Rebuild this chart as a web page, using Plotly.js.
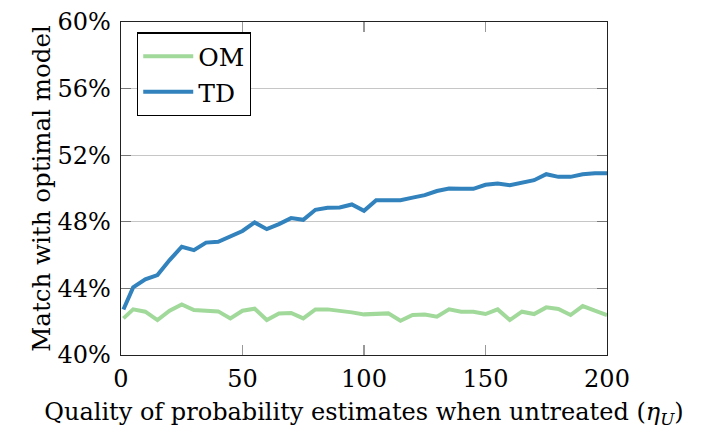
<!DOCTYPE html>
<html>
<head>
<meta charset="utf-8">
<script src="https://cdn.plot.ly/plotly-3.0.1.min.js"></script>
<style>html,body{margin:0;padding:0;background:#fff;}#chart{width:702px;height:429px;}</style>
</head>
<body>
<div id="chart"></div>
<script>
const xValues = [1,5,10,15,20,25,30,35,40,45,50,55,60,65,70,75,80,85,90,95,100,105,110,115,120,125,130,135,140,145,150,155,160,165,170,175,180,185,190,195,200];
const omValues = [42.2,42.74,42.6,42.1,42.66,43.04,42.7,42.68,42.62,42.2,42.66,42.78,42.1,42.5,42.52,42.2,42.74,42.74,42.68,42.56,42.44,42.5,42.5,42.06,42.4,42.43,42.3,42.74,42.6,42.6,42.46,42.74,42.1,42.6,42.46,42.86,42.76,42.4,42.94,42.66,42.4];
const tdValues = [42.73,44.06,44.54,44.8,45.7,46.5,46.3,46.75,46.8,47.15,47.45,47.96,47.56,47.86,48.22,48.12,48.72,48.84,48.86,49.04,48.66,49.3,49.33,49.3,49.45,49.6,49.85,50.0,49.98,49.98,50.22,50.3,50.2,50.32,50.5,50.86,50.7,50.7,50.85,50.92,50.92];
const seriesNames = ['OM','TD'];
const yTickVals = [40,44,48,52,56,60];
const yTickText = ['40%','44%','48%','52%','56%','60%'];
const xTickVals = [0,50,100,150,200];

const font = 'DejaVu Serif';
const traces = [
  {x: xValues, y: omValues, name: seriesNames[0], mode: 'lines', line: {color: '#a1d99b', width: 4}},
  {x: xValues, y: tdValues, name: seriesNames[1], mode: 'lines', line: {color: '#3182bd', width: 4}}
];
const layout = {
  width: 702, height: 429,
  margin: {l: 121, r: 95, t: 22, b: 74},
  paper_bgcolor: '#fff', plot_bgcolor: '#fff',
  font: {family: font, size: 24, color: '#000'},
  showlegend: true,
  legend: {x: 0.033, y: 0.969, xanchor: 'left', yanchor: 'top', bgcolor: '#fff', bordercolor: '#000', borderwidth: 1.2, itemwidth: 50, font: {family: font, size: 25}},
  xaxis: {
    range: [0, 200], tickvals: xTickVals, ticks: 'inside', ticklen: 10, tickcolor: '#999', tickwidth: 1.2,
    showgrid: false, zeroline: false, showline: true, linecolor: '#222', linewidth: 1.3, mirror: 'ticks',
    tickfont: {family: font, size: 24}, ticklabelstandoff: 2,
    title: {text: 'Quality of probability estimates when untreated (<i>η</i><sub><i>U</i></sub>)', font: {family: font, size: 24}}
  },
  yaxis: {
    range: [40, 60], tickvals: yTickVals, ticktext: yTickText, ticks: 'inside', ticklen: 10, tickcolor: '#777', tickwidth: 1.2,
    showgrid: true, gridcolor: '#c6c6c6', gridwidth: 1.2, zeroline: false, showline: true, linecolor: '#222', linewidth: 1.3, mirror: 'ticks',
    tickfont: {family: font, size: 24}, ticklabelstandoff: 4,
    title: {text: 'Match with optimal model', font: {family: font, size: 24.5}}
  }
};
Plotly.newPlot('chart', traces, layout, {displayModeBar: false, staticPlot: true});
</script>
</body>
</html>
